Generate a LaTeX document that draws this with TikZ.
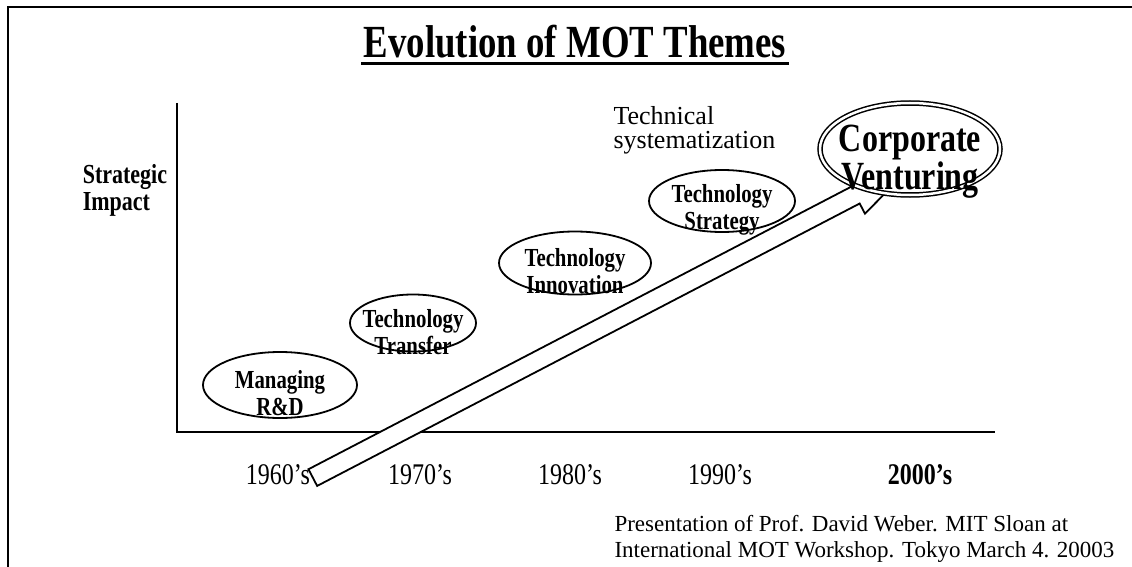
\documentclass[tikz,border=0pt]{standalone}
\usepackage{fontspec}
\setmainfont{Liberation Serif}
\usetikzlibrary{positioning, shapes.geometric, shapes.arrows}

\begin{document}
\begin{tikzpicture}[x=1pt, y=-1pt,
		theme/.style={draw, line width=1.8pt, ellipse, fill=white, inner sep=0pt},
		tall/.style={xscale=0.8},
		themetext/.style={tall, align=center, font=\fontsize{26}{27}\selectfont\bfseries},
		decade/.style={tall, font=\fontsize{30}{30}\selectfont}]
	\useasboundingbox (0,0) rectangle (1132,567);
	\draw [line width=2.5pt] (8,567)--(8,7)--(1132,7);
	\node [tall, font=\fontsize{46}{46}\selectfont\bfseries] (title) at (575,42) {Evolution of MOT Themes};
	\draw [line width=3pt] ([yshift=-1pt]title.south west)--([yshift=-1pt]title.south east);
	% axes
	\coordinate (origin) at (177,432);
	\coordinate (ytop) at (177,103);
	\coordinate (xend) at (995,432);
	\draw [line width=2pt] (ytop)--(origin)--(xend);
	\node [tall, anchor=west, align=left, font=\fontsize{27.5}{27}\selectfont\bfseries] (impact) at (80,190) {Strategic\\Impact};
	\node [decade] (d60) at (278,475) {1960's};
	\node [decade] (d70) at (420,475) {1970's};
	\node [decade] (d80) at (570,475) {1980's};
	\node [decade] (d90) at (720,475) {1990's};
	\node [decade, font=\fontsize{30}{30}\selectfont\bfseries] (d00) at (920,475) {2000's};
	% trend arrow
	\node [draw, line width=1.8pt, fill=white, single arrow, anchor=tail, rotate=27.5,
		minimum height=676pt, minimum width=40pt, inner xsep=0pt, inner ysep=8.5pt,
		single arrow head extend=11.5pt, single arrow tip angle=36] (trend) at (312,478) {};
	% themes
	\node [theme, minimum width=154pt, minimum height=66pt] (mrd) at (280,385) {};
	\node [themetext] at ([yshift=-8pt]mrd.center) {Managing\\R\&D};
	\node [theme, minimum width=126pt, minimum height=57pt] (transfer) at (413,323) {};
	\node [themetext] at ([yshift=-9pt]transfer.center) {Technology\\Transfer};
	\node [theme, minimum width=152pt, minimum height=63pt] (innovation) at (575,263) {};
	\node [themetext] at ([yshift=-8pt]innovation.center) {Technology\\Innovation};
	\node [theme, minimum width=146pt, minimum height=62pt] (strategy) at (722,201) {};
	\node [themetext] at ([yshift=-9pt]strategy.center) {Technology\\Strategy};
	\node [theme, double, double distance=2.5pt, line width=1.5pt, minimum width=180pt, minimum height=92pt] (venturing) at (910,149) {};
	\node [themetext, font=\fontsize{40}{38}\selectfont\bfseries] at ([yshift=-13pt]venturing.center) {Corporate\\Venturing};
	\node [anchor=west, align=left, font=\fontsize{26}{24}\selectfont] (systematization) at (610,130) {Technical\\systematization};
	% source
	\node [anchor=west, align=left, font=\fontsize{23}{26}\selectfont] (source) at (611,539) {Presentation of Prof. David Weber. MIT Sloan at\\International MOT Workshop. Tokyo March 4. 20003};
\end{tikzpicture}
\end{document}
